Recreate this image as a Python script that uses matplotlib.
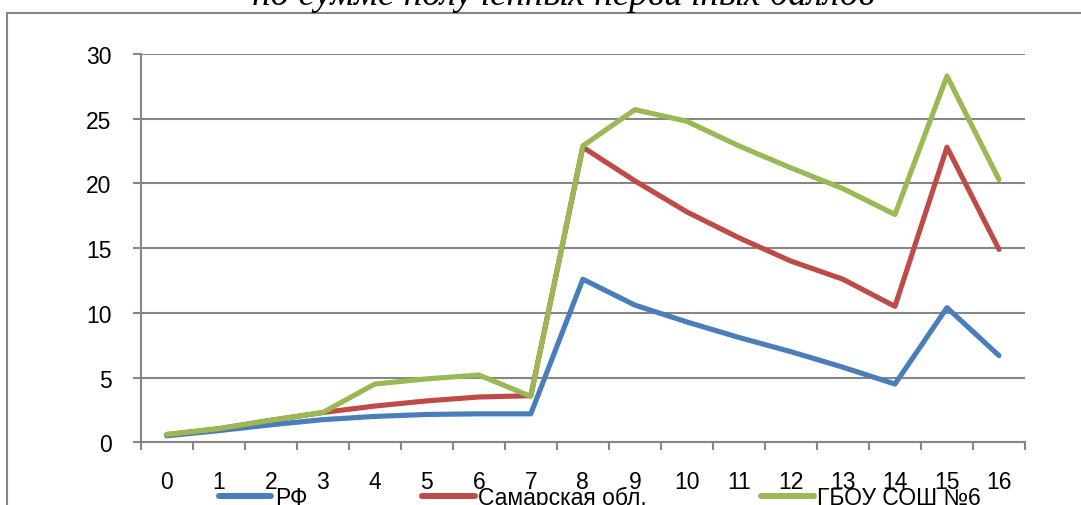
import matplotlib.pyplot as plt
from matplotlib.patches import Rectangle

# Data
categories = list(range(17))
rf = [0.5, 0.9, 1.35, 1.75, 2.0, 2.15, 2.2, 2.2, 12.6, 10.6, 9.3, 8.1, 7.0, 5.8, 4.5, 10.4, 6.7]
samara = [0.6, 1.05, 1.7, 2.3, 2.8, 3.2, 3.5, 3.6, 22.8, 20.2, 17.8, 15.8, 14.0, 12.6, 10.5, 22.8, 14.9]
school = [0.6, 1.05, 1.7, 2.3, 4.5, 4.9, 5.2, 3.55, 22.9, 25.7, 24.8, 22.9, 21.2, 19.6, 17.6, 28.3, 20.3]
series_names = ['РФ', 'Самарская обл.', 'ГБОУ СОШ №6']
title_text = 'по сумме полученных первичных баллов'

W, H = 1081, 506
grid_col = '#868686'
font = 'Liberation Sans'

fig = plt.figure(figsize=(W / 100, H / 100), dpi=100)
ax = fig.add_axes([140.7 / W, 1 - 443.3 / H, (1025 - 140.7) / W, (443.3 - 55) / H])

# Chart frame (cut off at right and bottom in the reference)
fig.patches.append(Rectangle((7 / W, -0.1), 1.2, 1 - 13.7 / H + 0.1, transform=fig.transFigure,
                             fill=False, edgecolor=grid_col, linewidth=1.5))

# Title (cut off at the top)
fig.text(563 / W, 1 - 5 / H, title_text, ha='center', va='baseline',
         fontname='Liberation Serif', style='italic', fontsize=26.7)

x = [c + 0.5 for c in categories]
ax.plot(x, rf, color='#4A7EBB', lw=3.7, label=series_names[0], solid_capstyle='round', solid_joinstyle='round')
ax.plot(x, samara, color='#BE4B48', lw=3.7, label=series_names[1], solid_capstyle='round', solid_joinstyle='round')
ax.plot(x, school, color='#98B954', lw=3.7, label=series_names[2], solid_capstyle='round', solid_joinstyle='round')

ax.set_xlim(0, len(categories))
ax.set_ylim(0, 30)
ax.set_yticks(range(0, 31, 5))
ax.set_xticks(range(0, len(categories) + 1))
ax.set_xticklabels([])
ax.set_xticks(x, minor=True)
ax.set_xticklabels([str(c) for c in categories], minor=True, fontname=font, fontsize=16.5)
ax.tick_params(axis='x', which='minor', length=0, pad=20)
ax.tick_params(axis='x', which='major', length=6, width=1.5, color=grid_col)
ax.tick_params(axis='y', length=6, width=1.5, color=grid_col, pad=15, labelsize=16.5)
for lab in ax.get_yticklabels():
    lab.set_fontname(font)

ax.grid(axis='y', color=grid_col, linewidth=1.5)
ax.set_axisbelow(True)
for side in ['top', 'right']:
    ax.spines[side].set_visible(False)
for side in ['left', 'bottom']:
    ax.spines[side].set_color(grid_col)
    ax.spines[side].set_linewidth(1.5)

leg = fig.legend(loc='center', bbox_to_anchor=(600 / W, 1 - 498 / H), ncol=3, frameon=False,
                 prop={'family': font, 'size': 16.5}, handlelength=2.3, handletextpad=0.15,
                 columnspacing=5.0, borderpad=0)
for line in leg.get_lines():
    line.set_linewidth(4.3)

fig.savefig('out.png', dpi=100)
